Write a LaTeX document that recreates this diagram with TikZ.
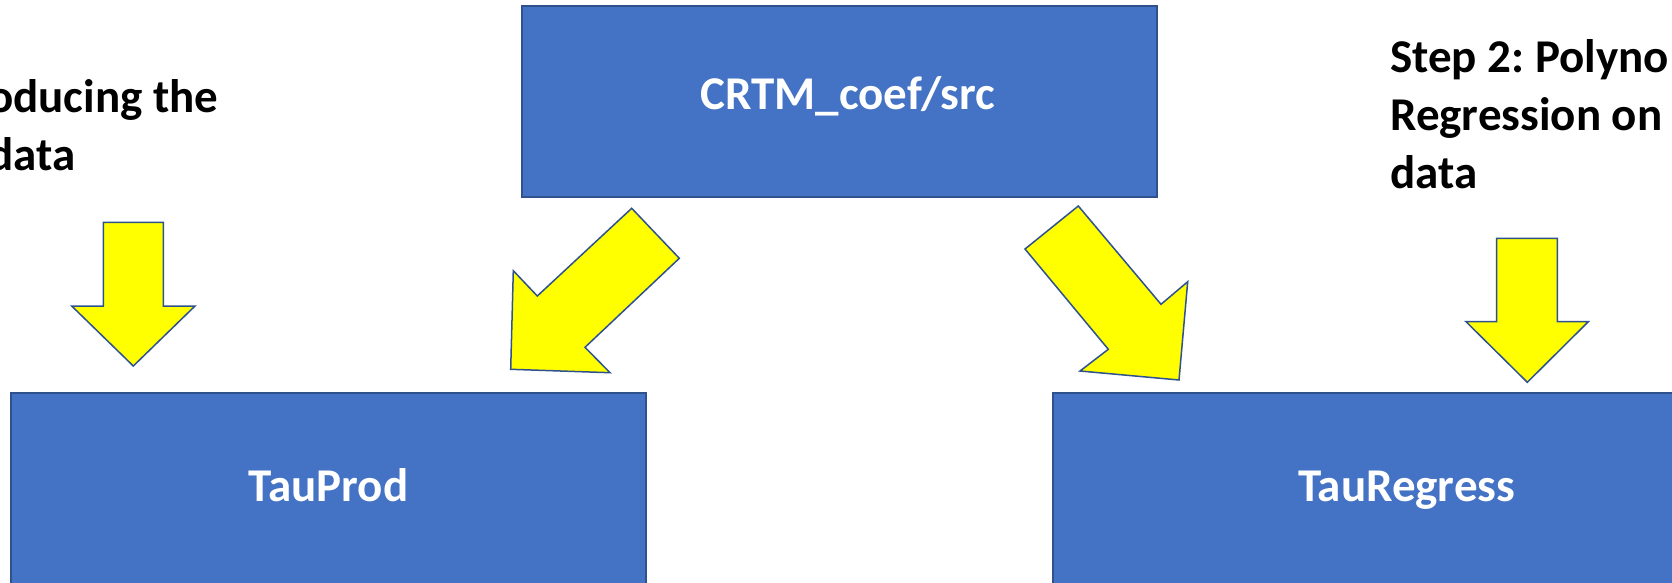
\documentclass[tikz,border=0pt]{standalone}
\usepackage{fontspec}
\setmainfont{Carlito}
\frenchspacing
\definecolor{boxblue}{HTML}{4472C4}
\definecolor{edgeblue}{HTML}{2F528F}
\definecolor{arrowyellow}{HTML}{FFFF00}
\tikzset{
  blockbox/.style={draw=edgeblue, fill=boxblue, line width=2pt, inner sep=0pt,
    text=white, font=\bfseries\fontsize{47}{58}\selectfont,
    text height=30pt, text depth=14.8pt},
  blockarrow/.style={draw=edgeblue, fill=arrowyellow, line width=1.5pt, line join=miter},
  steptext/.style={anchor=base west, align=left, inner sep=0pt, text=black,
    font=\bfseries\fontsize{47}{58}\selectfont}
}
\begin{document}
\begin{tikzpicture}[x=1pt,y=-1pt]
\useasboundingbox (0,0) rectangle (1672,583);
\clip (0,0) rectangle (1672,583);
\fill[white] (0,0) rectangle (1672,583);
% boxes
\node[blockbox, minimum width=635pt, minimum height=191.3pt] (src) at (839.8,101.65) {\hspace*{16pt}CRTM\_coef/src};
\node[blockbox, minimum width=634.7pt, minimum height=201.6pt] (prod) at (328.35,494.1) {TauProd};
\node[blockbox, minimum width=708pt, minimum height=201.6pt] (regress) at (1406.7,494.1) {TauRegress};
% step labels (base anchor = baseline of last line)
\node[steptext] (step1) at (-12,170.7) {oducing the\\data};
\node[steptext] (step2) at (1390,188.5) {Step 2: Polyno\\Regression on\\data};
% block arrows
\filldraw[blockarrow] (103.3,222.3) -- (163.3,222.3) -- (163.3,306) -- (195,306) -- (133.3,366) -- (71.7,306) -- (103.3,306) -- cycle;
\filldraw[blockarrow] (1496.7,238.3) -- (1557.3,238.3) -- (1557.3,321.7) -- (1588.3,321.7) -- (1527.3,382.3) -- (1466,321.7) -- (1496.7,321.7) -- cycle;
\filldraw[blockarrow] (631.7,208.3) -- (679.3,258.3) -- (585,347.3) -- (610,372.7) -- (510.7,369.3) -- (513.3,270.7) -- (537.3,296) -- cycle;
\filldraw[blockarrow] (1078.3,206) -- (1161,304.3) -- (1187.7,281.7) -- (1179,380) -- (1080,371) -- (1108.3,349.3) -- (1025,249) -- cycle;
\end{tikzpicture}
\end{document}
